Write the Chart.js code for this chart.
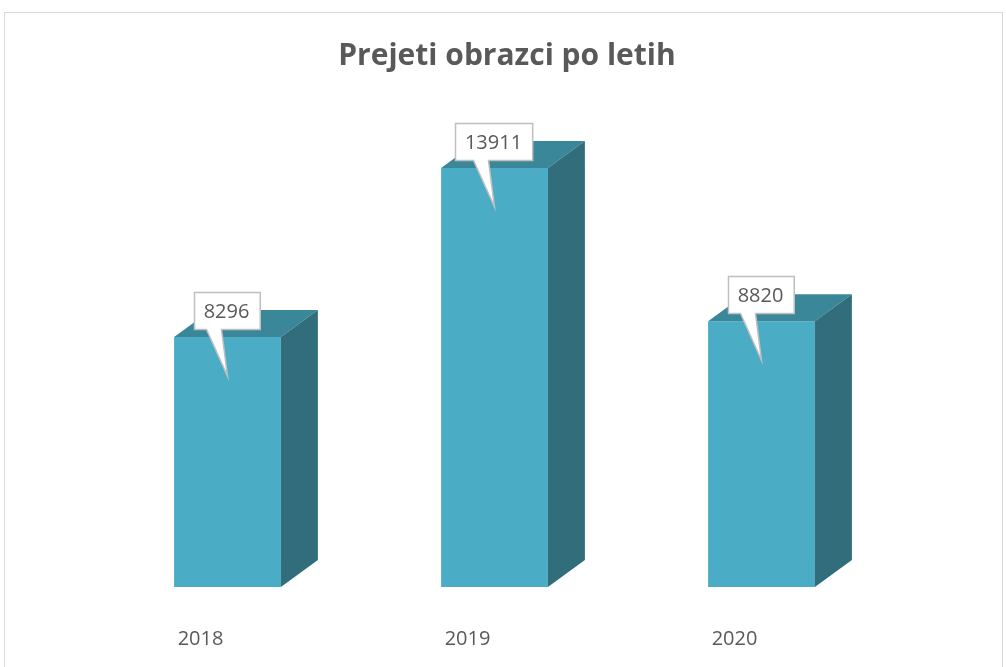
<!DOCTYPE html>
<html>
<head>
<meta charset="utf-8">
<script src="https://cdn.jsdelivr.net/npm/chart.js@4.4.1/dist/chart.umd.min.js"></script>
<style>
  html, body { margin: 0; padding: 0; background: #fff; }
  #wrap { position: relative; width: 1006px; height: 667px; overflow: hidden; }
  #frame { position: absolute; left: 4px; top: 12px; width: 999px; height: 700px; border: 1px solid #d9d9d9; box-sizing: border-box; }
  #chart { position: absolute; left: 0; top: 0; }
</style>
</head>
<body>
<div id="wrap">
  <div id="frame"></div>
  <canvas id="chart" width="1006" height="667"></canvas>
</div>
<script>
// Prejeti obrazci po letih - 3D-style column chart with callout labels
const years = ['2018', '2019', '2020'];
const received = [8296, 13911, 8820];
const chartTitle = 'Prejeti obrazci po letih';

const FRONT = '#4BACC6';
const TOP = '#398799';
const SIDE = '#316D7B';
const DEPTH_X = 37;
const DEPTH_Y = 27;

// title is centred on the whole frame, not on the plot area
const frameTitle = {
    id: 'frameTitle',
    afterDraw(chart) {
        const ctx = chart.ctx;
        ctx.save();
        ctx.font = 'bold 30px "Open Sans", sans-serif';
        ctx.fillStyle = '#595959';
        ctx.textAlign = 'center';
        ctx.textBaseline = 'middle';
        ctx.fillText(chartTitle, 507, 56);
        ctx.restore();
    }
};

// draws top + side faces so the columns look like the Excel 3D bars
const faces3d = {
    id: 'faces3d',
    afterDatasetsDraw(chart) {
        const ctx = chart.ctx;
        const meta = chart.getDatasetMeta(0);
        ctx.save();
        meta.data.forEach(bar => {
            const l = bar.x - bar.width / 2;
            const r = bar.x + bar.width / 2;
            const t = bar.y;
            const b = bar.base;
            ctx.fillStyle = TOP;
            ctx.beginPath();
            ctx.moveTo(l, t);
            ctx.lineTo(r, t);
            ctx.lineTo(r + DEPTH_X, t - DEPTH_Y);
            ctx.lineTo(l + DEPTH_X, t - DEPTH_Y);
            ctx.closePath();
            ctx.fill();
            ctx.fillStyle = SIDE;
            ctx.beginPath();
            ctx.moveTo(r, t);
            ctx.lineTo(r + DEPTH_X, t - DEPTH_Y);
            ctx.lineTo(r + DEPTH_X, b - DEPTH_Y);
            ctx.lineTo(r, b);
            ctx.closePath();
            ctx.fill();
        });
        ctx.restore();
    }
};

// white speech-bubble value labels
const callouts = {
    id: 'callouts',
    afterDatasetsDraw(chart) {
        const ctx = chart.ctx;
        const meta = chart.getDatasetMeta(0);
        ctx.save();
        ctx.font = '20px "Open Sans", sans-serif';
        meta.data.forEach((bar, i) => {
            const txt = String(received[i]);
            const w = ctx.measureText(txt).width + 20;
            const h = 37;
            const cx = bar.x - 1;
            const bx = Math.round(cx - w / 2) + 0.5;
            const by = Math.round(bar.y - 8 - h) + 0.5;
            const tipX = bar.x;
            const tipY = bar.y + 39;
            ctx.beginPath();
            ctx.moveTo(bx, by);
            ctx.lineTo(bx + w, by);
            ctx.lineTo(bx + w, by + h);
            ctx.lineTo(cx - 5, by + h);
            ctx.lineTo(tipX, tipY);
            ctx.lineTo(cx - 20, by + h);
            ctx.lineTo(bx, by + h);
            ctx.closePath();
            ctx.fillStyle = '#ffffff';
            ctx.fill();
            ctx.strokeStyle = '#bfbfbf';
            ctx.lineWidth = 1.5;
            ctx.stroke();
            ctx.fillStyle = '#595959';
            ctx.textAlign = 'center';
            ctx.textBaseline = 'middle';
            ctx.fillText(txt, cx, by + h / 2 + 1);
        });
        ctx.restore();
    }
};

new Chart(document.getElementById('chart').getContext('2d'), {
    type: 'bar',
    data: {
        labels: years,
        datasets: [{
            data: received,
            backgroundColor: FRONT,
            borderWidth: 0,
            barPercentage: 0.4,
            categoryPercentage: 1.0
        }]
    },
    options: {
        responsive: false,
        animation: false,
        layout: { padding: { left: 94, right: 111, top: 105, bottom: -16 } },
        plugins: {
            legend: { display: false },
            tooltip: { enabled: false },
            title: { display: false }
        },
        scales: {
            x: {
                grid: { display: false },
                border: { display: false },
                ticks: {
                    color: '#595959',
                    font: { family: '"Open Sans", sans-serif', size: 20 },
                    padding: 32,
                    labelOffset: -27
                }
            },
            y: {
                display: false,
                min: 0,
                max: 16000
            }
        }
    },
    plugins: [faces3d, callouts, frameTitle]
});
</script>
</body>
</html>
